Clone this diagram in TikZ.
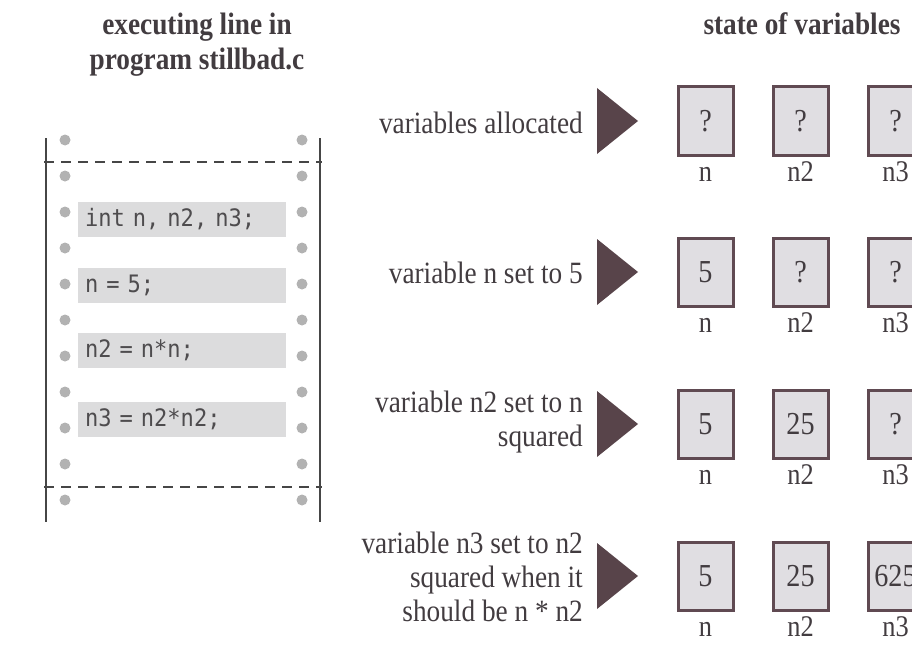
\documentclass[tikz,border=0pt]{standalone}
\usepackage{fontspec}
\setmainfont{Liberation Serif}
\newfontfamily\condserif[FakeStretch=0.88]{Liberation Serif}
\newfontfamily\codefont[FakeStretch=0.92]{DejaVu Sans Mono}
\definecolor{boxfill}{RGB}{224,222,226}
\definecolor{boxline}{RGB}{96,74,82}
\definecolor{tricol}{RGB}{88,68,74}
\definecolor{barfill}{RGB}{220,220,221}
\definecolor{holecol}{RGB}{178,178,178}
\definecolor{inkcol}{RGB}{66,60,64}
\definecolor{codecol}{RGB}{78,76,78}
\definecolor{stripline}{RGB}{70,70,70}
\tikzset{
  varbox/.style={draw=boxline, fill=boxfill, line width=3pt, minimum width=55pt, minimum height=68pt, inner sep=0pt, text=inkcol, font=\condserif\fontsize{32}{32}\selectfont},
  varlabel/.style={anchor=base, inner sep=0pt, text=inkcol, font=\condserif\fontsize{30}{30}\selectfont},
  steplabel/.style={align=right, inner sep=0pt, text=inkcol, font=\condserif\fontsize{31}{34}\selectfont},
  headline/.style={align=center, inner sep=0pt, text=inkcol, font=\condserif\bfseries\fontsize{31}{35}\selectfont},
  codebar/.style={fill=barfill, minimum width=208pt, minimum height=35pt, text width=194pt, inner xsep=7pt, inner ysep=0pt, align=left, text=codecol, font=\codefont\fontsize{24}{24}\selectfont},
  hole/.style={fill=holecol},
  tri/.style={fill=tricol}
}
\begin{document}
\begin{tikzpicture}[x=1pt,y=-1pt]
\useasboundingbox (0,0) rectangle (912,650);

% headings
\node[headline] (hleft) at (197,45) {executing line in\\program stillbad.c};
\node[headline, anchor=base] (hright) at (802,35) {state of variables};

% paper strip
\draw[stripline, line width=1.3pt] (46,138) -- (46,522);
\draw[stripline, line width=1.3pt] (320,138) -- (320,522);
\draw[stripline, line width=2pt, dash pattern=on 10pt off 7pt] (44,162) -- (322,162);
\draw[stripline, line width=2pt, dash pattern=on 10pt off 7pt] (44,487) -- (322,487);
\foreach \k in {0,...,10}{
  \fill[hole] (65,140+36*\k) circle (5.5pt);
  \fill[hole] (302,140+36*\k) circle (5.5pt);
}

% code lines
\node[codebar] (c1) at (182,219.5) {int n, n2, n3;};
\node[codebar] (c2) at (182,285.5) {n = 5;};
\node[codebar] (c3) at (182,350.5) {n2 = n*n;};
\node[codebar] (c4) at (182,419.5) {n3 = n2*n2;};

% step descriptions
\node[steplabel, anchor=base east] (s1) at (583,133) {variables allocated};
\node[steplabel, anchor=base east] (s2) at (583,283) {variable n set to 5};
\node[steplabel, anchor=east] (s3) at (583,422) {variable n2 set to n\\squared};
\node[steplabel, anchor=east] (s4) at (583,577) {variable n3 set to n2\\squared when it\\should be n * n2};

% triangles
\foreach \c in {121,272,424,576}{
  \fill[tri] (597,\c-33) -- (597,\c+33) -- (638,\c) -- cycle;
}

% variable boxes
\node[varbox] (b1n)  at (705.5,121) {?};
\node[varbox] (b1n2) at (800.5,121) {?};
\node[varbox] (b1n3) at (895.5,121) {?};
\node[varbox] (b2n)  at (705.5,272) {5};
\node[varbox] (b2n2) at (800.5,272) {?};
\node[varbox] (b2n3) at (895.5,272) {?};
\node[varbox] (b3n)  at (705.5,424) {5};
\node[varbox] (b3n2) at (800.5,424) {25};
\node[varbox] (b3n3) at (895.5,424) {?};
\node[varbox] (b4n)  at (705.5,576) {5};
\node[varbox] (b4n2) at (800.5,576) {25};
\node[varbox] (b4n3) at (895.5,576) {625};

% names under boxes
\foreach \r/\c in {1/121,2/272,3/424,4/576}{
  \node[varlabel] (l\r n)  at (705.5,\c+60) {n};
  \node[varlabel] (l\r n2) at (800.5,\c+60) {n2};
  \node[varlabel] (l\r n3) at (895.5,\c+60) {n3};
}
\end{tikzpicture}
\end{document}
